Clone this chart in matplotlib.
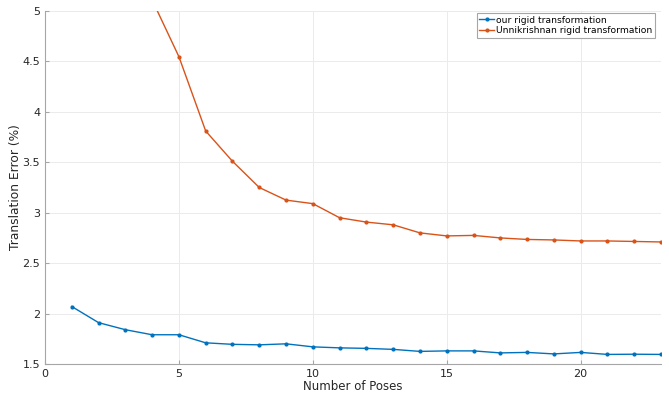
import matplotlib
matplotlib.use("Agg")
import matplotlib.pyplot as plt

poses = list(range(1, 24))
ours = [2.07, 1.91, 1.84, 1.79, 1.79, 1.71, 1.695, 1.69, 1.70, 1.67, 1.66, 1.655,
        1.645, 1.625, 1.63, 1.63, 1.61, 1.615, 1.60, 1.615, 1.595, 1.597, 1.595]
unni = [9.0, 7.2, 5.9, 5.11, 4.547, 3.81, 3.51, 3.25, 3.125, 3.09, 2.95, 2.907,
        2.88, 2.80, 2.77, 2.775, 2.75, 2.735, 2.73, 2.72, 2.72, 2.715, 2.71]
labels = ["our rigid transformation", "Unnikrishnan rigid transformation"]
xticks = [0, 5, 10, 15, 20]
yticks = [1.5, 2, 2.5, 3, 3.5, 4, 4.5, 5]

plt.rcParams['font.family'] = ['DejaVu Sans']
fig = plt.figure(figsize=(6.69, 3.97), dpi=100)
ax = fig.add_axes([45/669, 1-364/397, 616/669, 353/397])

ax.plot(poses, ours, '.-', color='#0072BD', lw=1.0, ms=4, label=labels[0])
ax.plot(poses, unni, '.-', color='#D95319', lw=1.0, ms=4, label=labels[1])

ax.set_xlim(0, 23)
ax.set_ylim(1.5, 5)
ax.set_xticks(xticks)
ax.set_yticks(yticks)
ax.set_yticklabels(["1.5", "2", "2.5", "3", "3.5", "4", "4.5", "5"])
ax.grid(True, color='#ebebeb', lw=0.7)
ax.set_axisbelow(True)
for s in ['top', 'right']:
    ax.spines[s].set_visible(False)
for s in ['left', 'bottom']:
    ax.spines[s].set_color('#a6a6a6')
    ax.spines[s].set_linewidth(0.8)
ax.tick_params(direction='in', length=3, colors='#a6a6a6', labelcolor='#262626', labelsize=8)
ax.set_xlabel('Number of Poses', fontsize=8.5, color='#262626', labelpad=1)
ax.set_ylabel('Translation Error (%)', fontsize=8.8, color='#262626', labelpad=0)

leg = ax.legend(loc='upper right', bbox_to_anchor=(0.99, 0.995), fontsize=6.6,
                frameon=True, fancybox=False, edgecolor='#a6a6a6', framealpha=1,
                handlelength=1.6, handletextpad=0.2, borderpad=0.3, labelspacing=0.15,
                borderaxespad=0)
leg.get_frame().set_linewidth(0.8)

fig.savefig('out.png', dpi=100)
